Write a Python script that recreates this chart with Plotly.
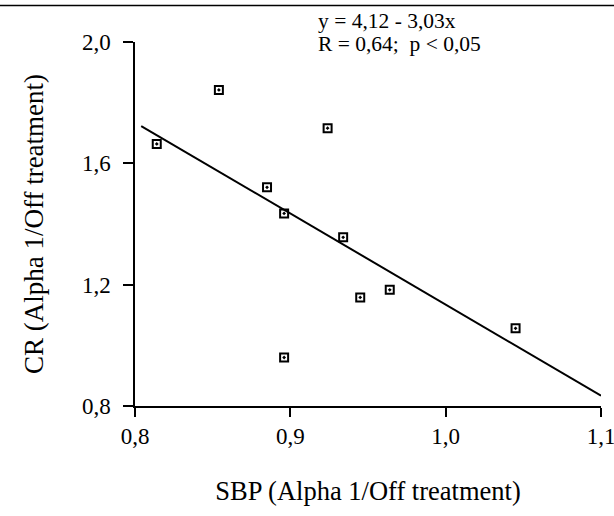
import plotly.graph_objects as go

# Data
sbp = [0.814, 0.854, 0.885, 0.896, 0.924, 0.934, 0.945, 0.964, 0.896, 1.045]
cr = [1.664, 1.842, 1.521, 1.435, 1.716, 1.356, 1.158, 1.183, 0.960, 1.056]

# Regression line endpoints (as drawn)
line_x = [0.804, 1.1]
line_y = [1.723, 0.834]

x_ticks = [0.8, 0.9, 1.0, 1.1]
x_labels = ["0,8", "0,9", "1,0", "1,1"]
y_ticks = [0.8, 1.2, 1.6, 2.0]
y_labels = ["0,8", "1,2", "1,6", "2,0"]

eq_line1 = "y = 4,12 - 3,03x"
eq_line2 = "R = 0,64;  p < 0,05"
x_title = "SBP (Alpha 1/Off treatment)"
y_title = "CR (Alpha 1/Off treatment)"

FONT = "Liberation Serif, Times New Roman, serif"

fig = go.Figure()
fig.add_trace(go.Scatter(x=line_x, y=line_y, mode="lines",
                         line=dict(color="black", width=2), showlegend=False))
fig.add_trace(go.Scatter(x=sbp, y=cr, mode="markers",
                         marker=dict(symbol="square-open-dot", size=8, color="black",
                                     line=dict(color="black", width=2)),
                         showlegend=False))

fig.update_layout(
    width=614, height=516,
    margin=dict(l=135, r=13, t=42, b=110),
    paper_bgcolor="white", plot_bgcolor="white",
    font=dict(family=FONT, color="black", size=20),
    xaxis=dict(range=[0.8, 1.1], tickvals=x_ticks, ticktext=x_labels, automargin=False,
               ticklabeloverflow="allow",
               showgrid=False, zeroline=False, showline=True, linecolor="black",
               linewidth=1.5, ticks="outside", ticklen=9, tickwidth=1.5, tickcolor="black",
               tickfont=dict(size=23, family=FONT),
               title=dict(text=x_title, font=dict(size=26.5, family=FONT), standoff=33)),
    yaxis=dict(range=[0.8, 2.0], tickvals=y_ticks, ticktext=y_labels, automargin=False,
               ticklabeloverflow="allow",
               showgrid=False, zeroline=False, showline=True, linecolor="black",
               linewidth=1.5, ticks="outside", ticklen=10, tickwidth=1.5, tickcolor="black",
               tickfont=dict(size=23, family=FONT), ticklabelstandoff=8,
               title=dict(text=y_title, font=dict(size=27, family=FONT), standoff=30)),
    shapes=[dict(type="line", xref="paper", yref="paper", x0=-0.3, x1=1.1,
                 y0=1.10, y1=1.10, line=dict(color="black", width=1.5))],
    annotations=[
        dict(text=eq_line1, xref="paper", yref="paper", x=(316 - 135) / 466,
             y=(406 - 21) / 364, xanchor="left", yanchor="middle", showarrow=False,
             font=dict(size=21.5, family=FONT)),
        dict(text=eq_line2, xref="paper", yref="paper", x=(316 - 135) / 466,
             y=(406 - 44) / 364, xanchor="left", yanchor="middle", showarrow=False,
             font=dict(size=21.5, family=FONT)),
    ],
)

fig.write_html("out.html")
